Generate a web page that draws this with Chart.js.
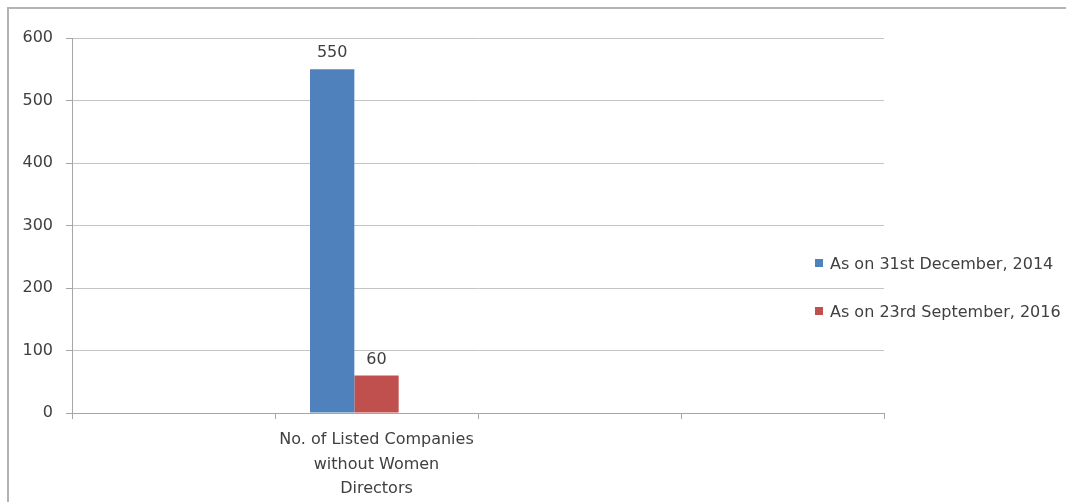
<!DOCTYPE html>
<html>
<head>
<meta charset="utf-8">
<script src="https://cdn.jsdelivr.net/npm/chart.js@4/dist/chart.umd.min.js"></script>
<style>
  html, body { margin: 0; padding: 0; background: #fff; }
  #wrap { position: relative; width: 1066px; height: 502px; overflow: hidden; }
  #frame {
    position: absolute; left: 7px; top: 7px; right: -10px; bottom: -10px;
    border-top: 2px solid #b4b4b4; border-left: 2px solid #b4b4b4;
  }
  #chart { position: absolute; left: 0; top: 0; }
  #legend { position: absolute; left: 815px; top: 0; font: 16px "DejaVu Sans"; color: #404040; }
  .item { position: absolute; left: 0; height: 24px; display: flex; align-items: center; white-space: nowrap; }
  .swatch { width: 8px; height: 8px; margin-right: 7px; }
</style>
</head>
<body>
<div id="wrap">
  <div id="frame"></div>
  <canvas id="chart" width="1066" height="502"></canvas>
  <div id="legend"></div>
</div>
<script>
const categories = ["", ["No. of Listed Companies", "without Women", "Directors"], "", ""];
const seriesNames = ["As on 31st December, 2014", "As on 23rd September, 2016", ""];
const series2014 = [null, 550, null, null];
const series2016 = [null, 60, null, null];
const seriesBlank = [null, null, null, null];
const seriesColors = ["#4f81bd", "#c0504d", "#9bbb59"];
const yTicks = [0, 100, 200, 300, 400, 500, 600];

const textColor = "#404040";
const gridColor = "#c4c4c4";
const fontFamily = "DejaVu Sans";

const valueLabels = {
  id: "valueLabels",
  afterDatasetsDraw(chart) {
    const ctx = chart.ctx;
    ctx.save();
    ctx.font = "16px " + fontFamily;
    ctx.fillStyle = textColor;
    ctx.textAlign = "center";
    ctx.textBaseline = "middle";
    chart.data.datasets.forEach((ds, i) => {
      chart.getDatasetMeta(i).data.forEach((bar, j) => {
        const v = ds.data[j];
        if (v === null || v === undefined) return;
        ctx.fillText(String(v), bar.x, bar.y - 16);
      });
    });
    ctx.restore();
  },
};

const seriesData = [series2014, series2016, seriesBlank];

const chart = new Chart(document.getElementById("chart"), {
  type: "bar",
  data: {
    labels: categories,
    datasets: seriesData.map((d, i) => ({
      label: seriesNames[i],
      data: d,
      backgroundColor: seriesColors[i],
      borderWidth: 0,
      categoryPercentage: 0.655,
      barPercentage: 1.0,
    })),
  },
  options: {
    responsive: false,
    animation: false,
    devicePixelRatio: 1,
    layout: { padding: { left: 0, top: 38, right: 182, bottom: 0 } },
    plugins: {
      legend: { display: false },
      tooltip: { enabled: false },
    },
    scales: {
      x: {
        offset: true,
        grid: {
          offset: true,
          drawOnChartArea: false,
          drawTicks: true,
          tickLength: 6,
          color: "#a6a6a6",
        },
        border: { color: "#a6a6a6" },
        ticks: {
          color: textColor,
          padding: 9,
          maxRotation: 0,
          autoSkip: false,
          font: { family: fontFamily, size: 16, lineHeight: 1.53 },
        },
        afterFit(scale) {
          scale.height = 89;
        },
      },
      y: {
        min: yTicks[0],
        max: yTicks[yTicks.length - 1],
        afterBuildTicks(scale) {
          scale.ticks = yTicks.map((v) => ({ value: v }));
        },
        grid: { color: gridColor, tickLength: 6, tickColor: "#a6a6a6" },
        border: { color: "#a6a6a6" },
        ticks: {
          color: textColor,
          padding: 13,
          font: { family: fontFamily, size: 16 },
        },
        afterFit(scale) {
          scale.width = 72;
        },
      },
    },
  },
  plugins: [valueLabels],
});

// legend for the two named series, placed as in the source picture
const legend = document.getElementById("legend");
const legendRows = [263, 311];
legendRows.forEach((cy, i) => {
  const row = document.createElement("div");
  row.className = "item";
  row.style.top = cy - 12 + "px";
  const sw = document.createElement("span");
  sw.className = "swatch";
  sw.style.background = seriesColors[i];
  const tx = document.createElement("span");
  tx.textContent = seriesNames[i];
  row.appendChild(sw);
  row.appendChild(tx);
  legend.appendChild(row);
});
</script>
</body>
</html>
